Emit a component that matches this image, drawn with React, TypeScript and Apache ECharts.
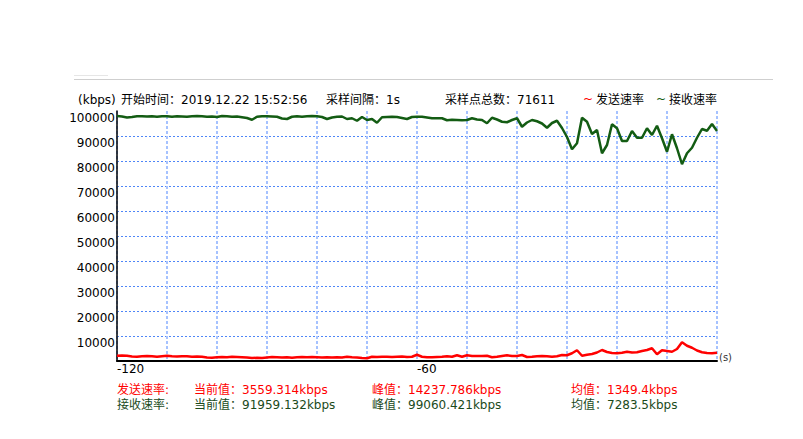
import React, { useEffect, useRef } from "react";
import * as echarts from "echarts";

// Sampling: one point per second over the last 120 s
const SECONDS: number[] = Array.from({ length: 121 }, (_, i) => -120 + i);

// 发送速率 (kbps)
const sendRate: number[] = [
  2100, 2200, 2100, 1800, 1700, 1900, 2000, 1900, 1700, 1900,
  2100, 1900, 1800, 1900, 1900, 1700, 1800, 1700, 1400, 1300,
  1500, 1600, 1500, 1700, 1600, 1500, 1400, 1200, 1300, 1200,
  1400, 1600, 1500, 1400, 1500, 1300, 1500, 1600, 1500, 1600,
  1500, 1400, 1500, 1400, 1500, 1400, 1700, 1500, 1400, 1200,
  1100, 1700, 1600, 1700, 1700, 1600, 1700, 1800, 1600, 1700,
  2500, 1700, 1500, 1500, 1600, 1700, 1900, 1700, 2300, 1700,
  2300, 2000, 2000, 2000, 2100, 1500, 1700, 2000, 2300, 2000,
  2000, 2400, 1600, 1700, 1900, 2000, 1900, 1700, 1900, 2400,
  2300, 3100, 4300, 2100, 2500, 2800, 3400, 4400, 3600, 3200,
  3100, 3300, 3700, 3400, 3500, 4000, 4400, 5100, 2700, 4300,
  4000, 3700, 4800, 7500, 6100, 5300, 4200, 3500, 3200, 3100,
  3300,
];

// 接收速率 (kbps)
const recvRate: number[] = [
  98000, 97800, 97400, 97600, 97900, 97900, 97800, 97900, 97700, 97900,
  97900, 97700, 97900, 97800, 97700, 97900, 98000, 97900, 97700, 97800,
  97600, 98000, 97900, 97700, 97800, 97500, 97200, 96500, 97700, 97900,
  97900, 97800, 97700, 97000, 96800, 97700, 97900, 97700, 97900, 98000,
  97900, 97600, 96800, 97400, 97700, 97800, 96800, 97100, 96100, 97600,
  96400, 96800, 95300, 97500, 97600, 97700, 97600, 97200, 96800, 97600,
  97700, 97700, 97400, 97100, 97100, 97100, 96300, 96500, 96400, 96300,
  96400, 97100, 96600, 96400, 95100, 97300, 96600, 95700, 95500, 96400,
  97100, 93700, 95400, 96400, 95900, 95000, 93300, 95200, 96100, 93200,
  89600, 84700, 87100, 97300, 95700, 90800, 92400, 83100, 86400, 94700,
  93100, 88000, 88000, 92000, 89300, 89300, 93100, 90400, 94100, 89100,
  83700, 90700, 85100, 78700, 83100, 85300, 89300, 92800, 92100, 94800,
  92000,
];

const X_LABELS: number[] = [-120, -60];

const HEADER = {
  unit: "(kbps)",
  start: "开始时间：2019.12.22 15:52:56",
  interval: "采样间隔：1s",
  count: "采样点总数：71611",
  sendName: "发送速率",
  recvName: "接收速率",
};

const SEND_STATS = ["发送速率:", "当前值：3559.314kbps", "峰值：14237.786kbps", "均值：1349.4kbps"];
const RECV_STATS = ["接收速率:", "当前值：91959.132kbps", "峰值：99060.421kbps", "均值：7283.5kbps"];

const FONT = "'DejaVu Sans', 'Noto Sans CJK SC', sans-serif";
const RED = "#ff0000";
const GREEN = "#135c13";
const GREEN_TEXT = "#1b4a1b";

export default function App() {
  const ref = useRef<HTMLDivElement>(null);

  useEffect(() => {
    if (!ref.current) return;
    const chart = echarts.init(ref.current, undefined, { renderer: "svg" });

    const txt = (x: number, y: number, text: string, fill: string, size = 12) => ({
      type: "text",
      x,
      y,
      style: { text, fill, font: `${size}px ${FONT}`, textVerticalAlign: "middle" },
      silent: true,
    });

    const statX = [117, 194, 372, 571];

    const hColors = Array.from({ length: 11 }, (_, i) => (i === 10 ? "transparent" : "#4f86f7"));

    chart.setOption({
      animation: false,
      backgroundColor: "#ffffff",
      grid: { left: 117, right: 86, top: 111, bottom: 78, containLabel: false },
      xAxis: {
        type: "value",
        min: -120,
        max: 0,
        interval: 10,
        axisLine: { show: true, onZero: false, lineStyle: { color: "#000", width: 2 } },
        axisTick: { show: false },
        axisLabel: {
          margin: 2,
          align: "left",
          color: "#000",
          fontSize: 12,
          fontFamily: FONT,
          formatter: (v: number) => (X_LABELS.includes(v) ? String(v) : ""),
        },
        splitLine: {
          show: true,
          lineStyle: { color: "#a6c2ff", width: 2, type: [3, 2] },
        },
      },
      yAxis: {
        type: "value",
        min: 0,
        max: 100000,
        interval: 10000,
        axisLine: { show: true, onZero: false, lineStyle: { color: "#000", width: 1.5 } },
        axisTick: { show: false },
        axisLabel: {
          margin: 2,
          color: "#000",
          fontSize: 12,
          fontFamily: FONT,
          verticalAlign: "top",
          padding: [1, 0, 0, 0],
          formatter: (v: number) => (v === 0 ? "" : String(v)),
        },
        splitLine: {
          show: true,
          lineStyle: { color: hColors, width: 1, type: [2, 2] },
        },
      },
      series: [
        {
          name: HEADER.recvName,
          type: "line",
          data: SECONDS.map((s, i) => [s, recvRate[i]]),
          showSymbol: false,
          lineStyle: { color: GREEN, width: 2.5 },
          itemStyle: { color: GREEN },
        },
        {
          name: HEADER.sendName,
          type: "line",
          data: SECONDS.map((s, i) => [s, sendRate[i]]),
          showSymbol: false,
          lineStyle: { color: RED, width: 2.5 },
          itemStyle: { color: RED },
        },
      ],
      graphic: [
        { type: "line", shape: { x1: 74, y1: 75.5, x2: 108, y2: 75.5 }, style: { stroke: "#e6e6e6", lineWidth: 1 }, silent: true },
        { type: "line", shape: { x1: 74, y1: 79.5, x2: 773, y2: 79.5 }, style: { stroke: "#cfcfcf", lineWidth: 1 }, silent: true },
        txt(78, 100, HEADER.unit, "#000"),
        txt(121, 100, HEADER.start, "#000"),
        txt(326, 100, HEADER.interval, "#000"),
        txt(445, 100, HEADER.count, "#000"),
        txt(583, 99, "~", RED),
        txt(596, 100, HEADER.sendName, "#000"),
        txt(656, 99, "~", GREEN),
        txt(669, 100, HEADER.recvName, "#000"),
        txt(719, 357, "(s)", "#333", 10),
        ...SEND_STATS.map((t, i) => txt(statX[i], 390, t, RED)),
        ...RECV_STATS.map((t, i) => txt(statX[i], 405, t, GREEN_TEXT)),
      ],
    });

    return () => chart.dispose();
  }, []);

  return (
    <div
      ref={ref}
      style={{ position: "fixed", left: 0, top: 0, width: 803, height: 439, background: "#fff" }}
    />
  );
}
